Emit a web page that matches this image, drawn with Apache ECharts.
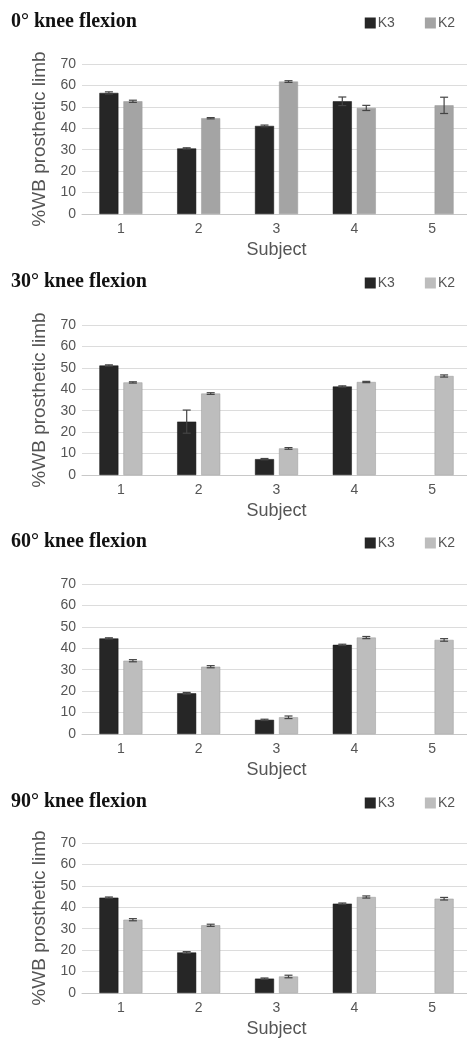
<!DOCTYPE html>
<html>
<head>
<meta charset="utf-8">
<script src="https://cdn.jsdelivr.net/npm/echarts@6/dist/echarts.min.js"></script>
<style>
  body { margin: 0; background: #fff; }
  .panel { width: 467px; height: 260px; }
</style>
</head>
<body>
<div class="panel" id="c0"></div>
<div class="panel" id="c1"></div>
<div class="panel" id="c2"></div>
<div class="panel" id="c3" style="height:258px"></div>
<script>
const subjects = ['1', '2', '3', '4', '5'];
const titles = ['0° knee flexion', '30° knee flexion', '60° knee flexion', '90° knee flexion'];

// mean %WB on prosthetic limb, per subject
const k3_0 = [56.5, 30.6, 41.1, 52.6, null];
const k2_0 = [52.6, 44.7, 61.8, 49.5, 50.7];
const k3_30 = [51.1, 24.9, 7.4, 41.3, null];
const k2_30 = [43.2, 38.0, 12.4, 43.4, 46.2];
const k3_60 = [44.6, 19.0, 6.6, 41.6, null];
const k2_60 = [34.2, 31.4, 7.8, 45.0, 43.9];
const k3_90 = [44.5, 18.9, 6.7, 41.7, null];
const k2_90 = [34.2, 31.6, 7.7, 44.8, 44.0];

// error bar half-widths
const k3e_0 = [0.5, 0.3, 0.4, 2.0, null];
const k2e_0 = [0.5, 0.3, 0.4, 1.2, 3.8];
const k3e_30 = [0.3, 5.4, 0.3, 0.3, null];
const k2e_30 = [0.3, 0.4, 0.4, 0.3, 0.5];
const k3e_60 = [0.3, 0.4, 0.3, 0.3, null];
const k2e_60 = [0.5, 0.5, 0.6, 0.5, 0.6];
const k3e_90 = [0.3, 0.4, 0.3, 0.3, null];
const k2e_90 = [0.5, 0.5, 0.6, 0.5, 0.6];

const panels = [
  { k3: k3_0, k2: k2_0, k3e: k3e_0, k2e: k2e_0, k2Color: '#a4a4a4', yName: '%WB prosthetic limb', top: 64 },
  { k3: k3_30, k2: k2_30, k3e: k3e_30, k2e: k2e_30, k2Color: '#bdbdbd', yName: '%WB prosthetic limb', top: 65 },
  { k3: k3_60, k2: k2_60, k3e: k3e_60, k2e: k2e_60, k2Color: '#bdbdbd', yName: '', top: 64 },
  { k3: k3_90, k2: k2_90, k3e: k3e_90, k2e: k2e_90, k2Color: '#bdbdbd', yName: '%WB prosthetic limb', top: 63 }
];

const BAR_W = 19;
const GAP = 5;
const SANS = 'Liberation Sans';

function errorSeries(vals, errs, side) {
  const data = [];
  vals.forEach(function (v, i) {
    if (v != null && errs[i] != null) data.push([i, v, errs[i]]);
  });
  return {
    type: 'custom',
    z: 10,
    silent: true,
    data: data,
    encode: { x: 0, y: 1 },
    renderItem: function (params, api) {
      const i = api.value(0), v = api.value(1), e = api.value(2);
      const hi = api.coord([i, v + e]);
      const lo = api.coord([i, v - e]);
      const x = hi[0] + side * (BAR_W + GAP) / 2;
      const cap = 4;
      const style = { stroke: '#444', lineWidth: 1.2 };
      return {
        type: 'group',
        children: [
          { type: 'line', shape: { x1: x, y1: hi[1], x2: x, y2: lo[1] }, style: style },
          { type: 'line', shape: { x1: x - cap, y1: hi[1], x2: x + cap, y2: hi[1] }, style: style },
          { type: 'line', shape: { x1: x - cap, y1: lo[1], x2: x + cap, y2: lo[1] }, style: style }
        ]
      };
    }
  };
}

panels.forEach(function (p, idx) {
  const chart = echarts.init(document.getElementById('c' + idx));
  chart.setOption({
    animation: false,
    title: {
      text: titles[idx],
      left: 6,
      top: 7,
      textStyle: { fontFamily: 'Liberation Serif', fontWeight: 'bold', fontSize: 20, color: '#111' }
    },
    legend: {
      data: ['K3', 'K2'],
      right: 7,
      top: 11,
      itemWidth: 11,
      itemHeight: 11,
      itemGap: 30,
      icon: 'rect',
      itemStyle: { borderWidth: 0 },
      textStyle: { fontFamily: SANS, fontSize: 14, color: '#555', padding: [0, 0, 0, -3] }
    },
    grid: { left: 82, top: p.top, width: 389, height: 150, outerBoundsMode: 'none', containLabel: false },
    xAxis: {
      type: 'category',
      data: subjects,
      name: 'Subject',
      nameLocation: 'middle',
      nameGap: 25,
      nameTextStyle: { fontFamily: SANS, fontSize: 18, color: '#555' },
      axisLine: { lineStyle: { color: '#c8c8c8' } },
      axisTick: { show: false },
      axisLabel: { fontFamily: SANS, fontSize: 14, color: '#555', margin: 8 }
    },
    yAxis: {
      type: 'value',
      min: 0,
      max: 70,
      interval: 10,
      name: p.yName,
      nameLocation: 'middle',
      nameGap: 32,
      nameTextStyle: { fontFamily: SANS, fontSize: 19, color: '#555' },
      axisLine: { show: false },
      axisTick: { show: false },
      axisLabel: { fontFamily: SANS, fontSize: 14, color: '#555', margin: 6 },
      splitLine: { lineStyle: { color: '#dcdcdc' } }
    },
    series: [
      { name: 'K3', type: 'bar', data: p.k3, barWidth: BAR_W, barGap: (GAP / BAR_W * 100) + '%',
        itemStyle: { color: '#262626', borderColor: '#111', borderWidth: 0.5 } },
      { name: 'K2', type: 'bar', data: p.k2, barWidth: BAR_W,
        itemStyle: { color: p.k2Color, borderColor: '#999', borderWidth: 0.5 } },
      errorSeries(p.k3, p.k3e, -1),
      errorSeries(p.k2, p.k2e, 1)
    ]
  });
});
</script>
</body>
</html>
